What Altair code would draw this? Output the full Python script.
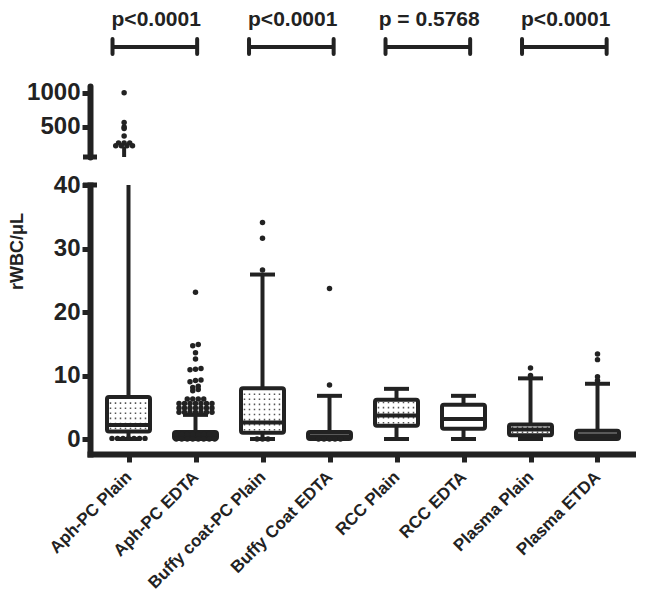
import json
import altair as alt
import pandas as pd

# ---------------- data ----------------
cats = ["Aph-PC Plain", "Aph-PC EDTA", "Buffy coat-PC Plain", "Buffy Coat EDTA",
        "RCC Plain", "RCC EDTA", "Plasma Plain", "Plasma ETDA"]
q1 = [1.2, 0.0, 1.0, 0.0, 2.1, 1.6, 0.6, 0.0]
med = [2.2, 0.5, 2.6, 0.45, 3.7, 3.15, 1.5, 0.6]
q3 = [6.6, 1.1, 8.0, 1.1, 6.2, 5.4, 2.3, 1.3]
whisk_lo = [0.0, 0.0, 0.0, 0.0, 0.0, 0.0, 0.0, 0.0]
whisk_hi = [200, 3.8, 25.9, 6.8, 7.9, 6.8, 9.55, 8.7]
plain = [True, False, True, False, True, False, True, False]

out_aph_plain = [0.1, 0.1, 0.1, 0.1, 0.1, 0.1, 0.1,
                 1000, 559, 494, 470, 362,
                 259, 259, 259, 215, 215, 215, 215]
out_aph_edta = [0.0, 0.0, 0.0, 0.0, 0.0, 0.0, 0.0, 0.0,
                0.75, 0.75, 0.75, 0.75, 0.75, 0.75, 0.75, 0.75,
                4.2, 4.2, 4.2, 4.2, 4.2, 4.2, 4.2,
                4.9, 4.9, 4.9, 4.9, 4.9, 4.9, 4.9,
                5.6, 5.6, 5.6, 5.6, 5.6, 5.6, 5.6,
                6.3, 6.3, 6.3, 6.3,
                7.6, 7.8, 8.1, 8.3, 9.0, 9.2, 9.3,
                10.9, 11.0, 11.1, 12.6, 13.6, 14.7, 14.9, 23.1]
out_buffy_plain = [0.0, 0.0, 0.0, 26.6, 31.6, 34.1]
out_buffy_edta = [0.0, 0.0, 0.0, 0.0, 0.0, 8.5, 23.7]
out_rcc_plain = []
out_rcc_edta = []
out_plasma_plain = [10.0, 11.2]
out_plasma_etda = [9.2, 9.8, 12.5, 13.4]
outliers = [out_aph_plain, out_aph_edta, out_buffy_plain, out_buffy_edta,
            out_rcc_plain, out_rcc_edta, out_plasma_plain, out_plasma_etda]

p_from = ["Aph-PC Plain", "Buffy coat-PC Plain", "RCC Plain", "Plasma Plain"]
p_to = ["Aph-PC EDTA", "Buffy Coat EDTA", "RCC EDTA", "Plasma ETDA"]
p_text = ["p<0.0001", "p<0.0001", "p = 0.5768", "p<0.0001"]

y_axis_title = "rWBC/μL"
low_ticks = [0, 10, 20, 30, 40]
high_ticks = [500, 1000]
low_domain = [-2.36, 40]
high_domain = [50, 1100]

# ---------------- tables ----------------
box_df = pd.DataFrame({"cat": cats, "idx": list(range(len(cats))), "q1": q1, "med": med,
                       "q3": q3, "lo": whisk_lo, "hi": whisk_hi, "plain": plain})
rows = []
for i, vals in enumerate(outliers):
    for v in vals:
        rows.append({"cat": cats[i], "idx": i, "value": v})
pts_df = pd.DataFrame(rows)
ann_df = pd.DataFrame({"a": [cats.index(c) for c in p_from],
                       "b": [cats.index(c) for c in p_to], "label": p_text})

INK = "#222222"
FONT = "Liberation Sans"
W = 546
xscale = alt.Scale(domain=[-0.5, len(cats) - 0.5], nice=False, zero=False)
label_expr = json.dumps(cats) + "[datum.value]"

x_axis_low = alt.Axis(values=list(range(len(cats))), labelExpr=label_expr, labelAngle=-45,
                      labelAlign="right", labelBaseline="middle", labelFontSize=17,
                      labelFontWeight="bold", labelFont=FONT, labelColor=INK,
                      labelOverlap=False, labelFlush=False, labelPadding=12,
                      tickSize=8, tickWidth=5, tickColor=INK, domainWidth=6,
                      domainColor=INK, domainCap="square", title=None, grid=False)
y_axis_low = alt.Axis(values=low_ticks, format="d", labelFontSize=24, labelFontWeight="bold",
                      labelFont=FONT, labelColor=INK, tickSize=8, tickWidth=5,
                      tickColor=INK, domainWidth=6, domainColor=INK, domainCap="square",
                      labelPadding=2, grid=False, title=y_axis_title, titleFont=FONT,
                      titleFontSize=18, titleFontWeight="bold", titleColor=INK,
                      titleAngle=270, titleX=-64, titleY=66, titleAlign="center",
                      titleBaseline="bottom")
y_axis_high = alt.Axis(values=high_ticks, format="d", labelFontSize=24, labelFontWeight="bold",
                       labelFont=FONT, labelColor=INK, tickSize=8, tickWidth=5,
                       tickColor=INK, domainWidth=6, domainColor=INK, domainCap="round",
                       labelPadding=2, grid=False, title=None)


def segment(ydomain, xaxis, yaxis, bin_w, keep, brk_value, height, full):
    ysc = alt.Scale(domain=ydomain, nice=False, zero=False)

    def X(f):
        return alt.X(f, type="quantitative", scale=xscale, axis=xaxis)

    def Y(f):
        return alt.Y(f, type="quantitative", scale=ysc, axis=yaxis)

    base = alt.Chart(box_df)
    layers = []
    wh_up = base.transform_filter(f"datum.hi > {ydomain[0]}").mark_rule(
        strokeWidth=4, color=INK, clip=True).encode(x=X("idx"), y=Y("q3"), y2="hi")
    layers.append(wh_up)
    if full:
        wh_lo = base.mark_rule(strokeWidth=4, color=INK, clip=True).encode(
            x=X("idx"), y=Y("lo"), y2="q1")
        cap_hi = base.mark_tick(orient="horizontal", size=25, thickness=4, color=INK,
                                clip=True, opacity=1).encode(x=X("idx"), y=Y("hi"))
        cap_lo = base.mark_tick(orient="horizontal", size=25, thickness=4, color=INK,
                                clip=True, opacity=1).encode(x=X("idx"), y=Y("lo"))
        box = base.mark_bar(size=43, fill="white", stroke=INK, strokeWidth=4,
                            cornerRadius=2, clip=True).encode(x=X("idx"), y=Y("q1"), y2="q3")
        texture = base.transform_filter("datum.plain").transform_calculate(
            row="sequence(datum.q1 + 0.45, datum.q3 - 0.2, 0.8)"
        ).transform_flatten(["row"]).transform_calculate(
            xa="datum.idx - 0.28", xb="datum.idx + 0.28"
        ).mark_rule(strokeDash=[1.5, 3.5], strokeWidth=1.6, color="#555555",
                    clip=True).encode(x=X("xa"), x2="xb", y=Y("row"))
        median = base.mark_tick(orient="horizontal", size=43, thickness=4, color=INK,
                                clip=True, opacity=1).encode(x=X("idx"), y=Y("med"))
        layers += [wh_lo, cap_hi, cap_lo, box, texture, median]
    pts = alt.Chart(pts_df).transform_filter(keep).transform_calculate(
        bin=f"round(datum.value / {bin_w})"
    ).transform_window(
        rank="row_number()", groupby=["idx", "bin"], sort=[alt.SortField("value")]
    ).transform_joinaggregate(
        n="count()", groupby=["idx", "bin"]
    ).transform_calculate(
        xs="datum.idx + (datum.rank - 1 - (datum.n - 1) / 2) * 0.082"
    ).mark_circle(size=30, color=INK, opacity=1, clip=True).encode(
        x=X("xs"), y=Y("value"))
    brk = alt.Chart(pd.DataFrame({"v": [brk_value]})).mark_tick(
        orient="horizontal", size=14, thickness=5, color=INK, opacity=1
    ).encode(x=alt.value(0), y=Y("v"))
    layers += [pts, brk]
    return alt.layer(*layers).properties(width=W, height=height)


low = segment(low_domain, x_axis_low, y_axis_low, 0.7, "datum.value <= 40",
              low_domain[1], 269, True)
high = segment(high_domain, None, y_axis_high, 50, "datum.value > 45",
               high_domain[0], 71, False)

ann_base = alt.Chart(ann_df).transform_calculate(
    xa="datum.a - 0.17", xb="datum.b + 0.07", xm="(datum.a + datum.b) / 2 - 0.03")
ann_line = ann_base.mark_rule(strokeWidth=4, color=INK).encode(
    x=alt.X("xa:Q", scale=xscale, axis=None), x2="xb:Q", y=alt.value(39))
ann_cap1 = ann_base.mark_rule(strokeWidth=4, color=INK, strokeCap="round").encode(
    x=alt.X("xa:Q", scale=xscale, axis=None), y=alt.value(31), y2=alt.value(46))
ann_cap2 = ann_base.mark_rule(strokeWidth=4, color=INK, strokeCap="round").encode(
    x=alt.X("xb:Q", scale=xscale, axis=None), y=alt.value(31), y2=alt.value(46))
ann_txt = ann_base.mark_text(font=FONT, fontSize=21, fontWeight="bold", color=INK,
                             baseline="top", align="center").encode(
    x=alt.X("xm:Q", scale=xscale, axis=None), y=alt.value(1), text="label:N")
ann = alt.layer(ann_line, ann_cap1, ann_cap2, ann_txt).properties(width=W, height=50)

chart = alt.vconcat(ann, high, low, spacing=28, bounds="flush").properties(
    padding=0).configure_view(stroke=None).configure_axis(grid=False)

chart.save("out.html", embed_options={"renderer": "svg", "actions": False})
